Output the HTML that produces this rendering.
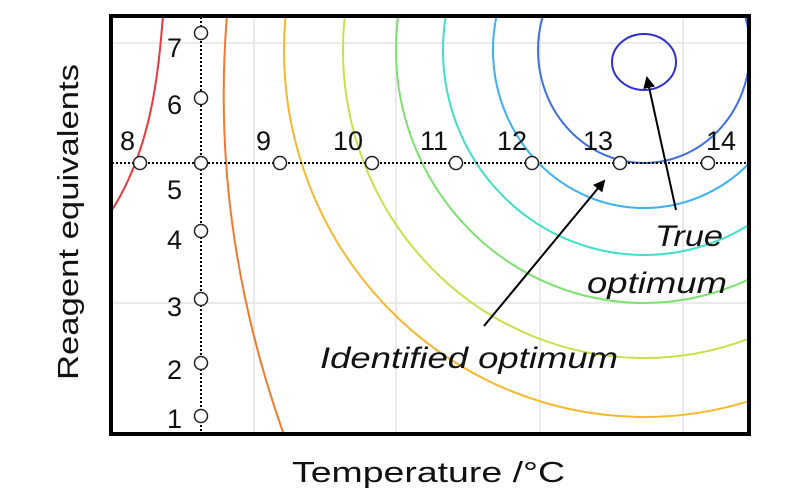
<!DOCTYPE html>
<html><head><style>
body{margin:0;background:#fff;}
svg{display:block;font-family:"Liberation Sans",sans-serif;}
</style></head><body>
<svg width="800" height="500" viewBox="0 0 800 500">
<defs>
<clipPath id="c"><rect x="112" y="17" width="636" height="416"/></clipPath>
<marker id="ah" markerWidth="12" markerHeight="12" refX="10" refY="6" orient="auto" markerUnits="userSpaceOnUse"><path d="M0,0 L12,6 L0,12 z" fill="#000"/></marker>
</defs>
<g stroke="#e4e4e4" stroke-width="1.5">
<line x1="254" y1="17" x2="254" y2="433"/><line x1="396" y1="17" x2="396" y2="433"/>
<line x1="540" y1="17" x2="540" y2="433"/><line x1="683" y1="17" x2="683" y2="433"/>
<line x1="112" y1="43" x2="748" y2="43"/><line x1="112" y1="303" x2="748" y2="303"/>
</g>
<g clip-path="url(#c)" fill="none" stroke-width="2">
<path d="M163,15 C158,80 150,150 112,210" stroke="#e8383d"/>
<path d="M227,15 C220,100 218,250 284,435" stroke="#f07a30"/>
<ellipse cx="644" cy="50" rx="360" ry="367" stroke="#f5b830"/>
<ellipse cx="644" cy="50" rx="301" ry="308" stroke="#c8e04a"/>
<ellipse cx="644" cy="50" rx="248" ry="253" stroke="#7ee070"/>
<ellipse cx="644" cy="50" rx="201" ry="205" stroke="#40e0c8"/>
<ellipse cx="644" cy="50" rx="151" ry="158" stroke="#3cb0f0"/>
<ellipse cx="644" cy="50" rx="106" ry="113" stroke="#4070e0"/>
<ellipse cx="644" cy="62" rx="32" ry="28" stroke="#3030d0"/>
</g>
<g stroke="#000" stroke-width="2" stroke-dasharray="2,2">
<line x1="112" y1="163" x2="748" y2="163"/><line x1="201" y1="17" x2="201" y2="433"/>
</g>
<g fill="#fff" stroke="#222" stroke-width="1.5">
<circle cx="140" cy="163" r="6.5"/><circle cx="201" cy="163" r="6.5"/><circle cx="280" cy="163" r="6.5"/>
<circle cx="372" cy="163" r="6.5"/><circle cx="456" cy="163" r="6.5"/><circle cx="532" cy="163" r="6.5"/>
<circle cx="620" cy="163" r="6.5"/><circle cx="708" cy="163" r="6.5"/>
<circle cx="201" cy="33" r="6.5"/><circle cx="201" cy="98" r="6.5"/><circle cx="201" cy="231" r="6.5"/>
<circle cx="201" cy="299" r="6.5"/><circle cx="201" cy="363" r="6.5"/><circle cx="201" cy="416" r="6.5"/>
</g>
<rect x="111" y="16" width="638" height="418" fill="none" stroke="#000" stroke-width="4"/>
<g font-size="27" fill="#111">
<text x="120" y="150">8</text><text x="256" y="150">9</text><text x="333" y="150">10</text>
<text x="420" y="150">11</text><text x="497" y="150">12</text><text x="583" y="150">13</text><text x="706" y="150">14</text>
<text x="167" y="57">7</text><text x="167" y="114">6</text><text x="167" y="199">5</text>
<text x="167" y="249">4</text><text x="167" y="316">3</text><text x="167" y="379">2</text><text x="167" y="428">1</text>
</g>
<g stroke="#000" stroke-width="2">
<line x1="484" y1="326" x2="604" y2="181" marker-end="url(#ah)"/>
<line x1="676" y1="210" x2="647" y2="78" marker-end="url(#ah)"/>
</g>
<g font-size="30" font-style="italic" fill="#111">
<text x="320" y="368" textLength="298" lengthAdjust="spacingAndGlyphs">Identified optimum</text>
<text x="655" y="246" textLength="68" lengthAdjust="spacingAndGlyphs">True</text>
<text x="587" y="293" textLength="140" lengthAdjust="spacingAndGlyphs">optimum</text>
</g>
<text x="292" y="482" font-size="29" fill="#111" textLength="273" lengthAdjust="spacingAndGlyphs">Temperature /°C</text>
<text transform="translate(78,222) rotate(-90)" text-anchor="middle" font-size="29" fill="#111" textLength="316" lengthAdjust="spacingAndGlyphs">Reagent equivalents</text>
</svg>
</body></html>
